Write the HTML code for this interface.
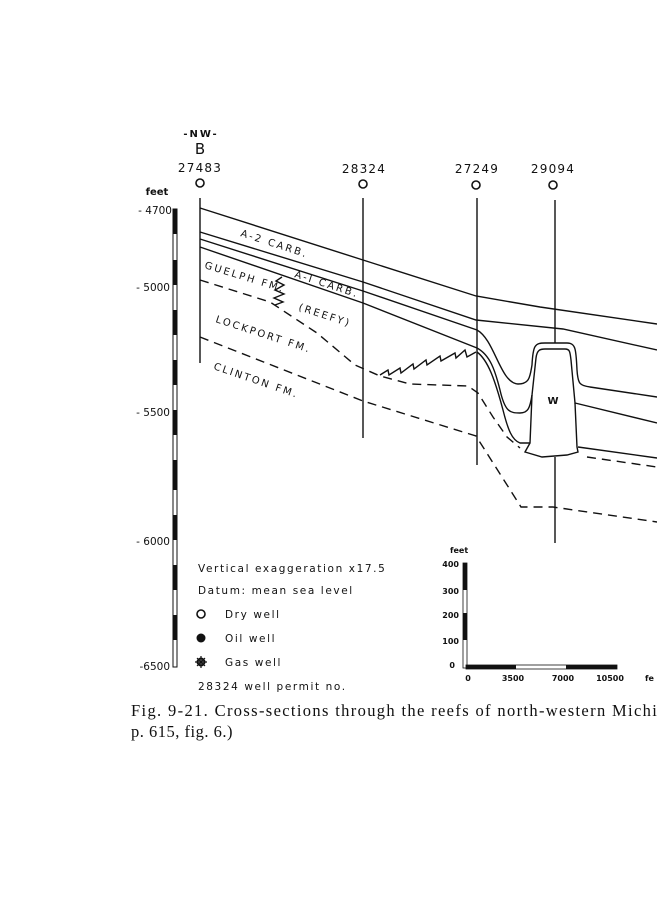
<!DOCTYPE html>
<html><head><meta charset="utf-8"><style>
html,body{margin:0;padding:0;background:#fff;}
svg{display:block;}
text{font-family:"DejaVu Sans","Liberation Sans",sans-serif;fill:#111;}
.s{fill:none;stroke:#111;stroke-width:1.4;}
.d{fill:none;stroke:#111;stroke-width:1.4;stroke-dasharray:9,6;}
.cap{font-family:"Liberation Serif",serif;font-size:16.5px;}
</style></head><body>
<svg width="657" height="900" viewBox="0 0 657 900" xmlns="http://www.w3.org/2000/svg">
<rect width="657" height="900" fill="#fff"/>
<text x="201" y="137" font-size="10" font-weight="bold" text-anchor="middle" letter-spacing="2">-NW-</text>
<text x="200" y="154" font-size="15" text-anchor="middle">B</text>
<g font-size="12" text-anchor="middle" letter-spacing="1.2">
<text x="200" y="172">27483</text><text x="364" y="173">28324</text>
<text x="477" y="173">27249</text><text x="553" y="173">29094</text>
</g>
<g fill="none" stroke="#111" stroke-width="1.6">
<circle cx="200" cy="183" r="4"/><circle cx="363" cy="184" r="4"/>
<circle cx="476" cy="185" r="4"/><circle cx="553" cy="185" r="4"/>
</g>
<text x="157" y="195" font-size="10" text-anchor="middle" font-weight="bold">feet</text>
<g font-size="10.5" text-anchor="end">
<text x="172" y="214">- 4700</text><text x="170" y="291">- 5000</text>
<text x="170" y="416">- 5500</text><text x="170" y="545">- 6000</text><text x="170" y="670">-6500</text>
</g>
<rect x="173" y="209" width="4" height="458" fill="#fff" stroke="#111" stroke-width="1"/>
<g fill="#111">
<rect x="173" y="209" width="4" height="25"/><rect x="173" y="260" width="4" height="25"/>
<rect x="173" y="310" width="4" height="25"/><rect x="173" y="360" width="4" height="25"/>
<rect x="173" y="410" width="4" height="25"/><rect x="173" y="460" width="4" height="30"/>
<rect x="173" y="515" width="4" height="25"/><rect x="173" y="565" width="4" height="25"/>
<rect x="173" y="615" width="4" height="25"/>
</g>
<g class="s" stroke-width="1.1">
<line x1="200" y1="198" x2="200" y2="363"/>
<line x1="363" y1="198" x2="363" y2="438"/>
<line x1="477" y1="198" x2="477" y2="465"/>
<line x1="555" y1="200" x2="555" y2="343"/>
<line x1="555" y1="457" x2="555" y2="543"/>
</g>
<path class="s" d="M200,208 L363,260 L476,296 L540,307 L657,324"/>
<path class="s" d="M200,232 L363,282 L476,320 L563,329 L657,350"/>
<path class="s" d="M200,239 L363,291 L477,330 C495,340 500,383 518,384 C530,384 530,376 532,365 C533,345 535,343 545,343 L567,343 C576,343 576,350 577,370 C578,385 580,385 590,387 L657,397"/>
<path class="s" d="M200,247 L363,303 L477,348 C490,355 495,370 500,390 C505,412 510,413 520,413 C528,413 530,408 532,395 L536,358 C537,350 540,349 545,349 L565,349 C570,349 570,352 571,360 L575,403 L657,423"/>
<path class="s" d="M532,395 L530,443 L525,452 L542,457 L567,455 L578,452 L577,447 L575,403"/>
<path class="s" d="M477,352 C488,360 495,380 503,410 C508,430 512,440 520,443 L530,443"/>
<path class="s" d="M578,447 L657,458"/>
<path class="d" stroke-dasharray="6,4" d="M587,457 L657,467"/>
<path class="d" d="M200,280 L270,302 L317,333 L355,365 L380,376 L410,384 L468,386 L478,393 L493,417 L507,437 L520,448"/>
<path class="d" d="M200,337 L363,401 L476,436 L521,507 L553,507 L657,522"/>
<path class="s" d="M380,375 L388,370 L389,375 L400,368 L401,373 L413,364 L414,369 L426,360 L427,365 L440,356 L441,361 L455,353 L456,358 L465,350 L467,357 L476,352"/>
<path class="s" d="M282,277 L276,281 L284,285 L275,290 L284,294 L274,298 L283,302 L275,305"/>
<g font-size="10" letter-spacing="2.2">
<text transform="translate(240,236) rotate(18)">A-2  CARB.</text>
<text transform="translate(294,277) rotate(18)">A-I  CARB.</text>
<text transform="translate(204,268) rotate(17)">GUELPH FM.</text>
<text transform="translate(298,310) rotate(18)">(REEFY)</text>
<text transform="translate(215,322) rotate(18)">LOCKPORT  FM.</text>
<text transform="translate(213,369) rotate(19)">CLINTON  FM.</text>
<text x="553" y="404" font-size="10" font-weight="bold" text-anchor="middle" letter-spacing="0">W</text>
</g>
<g font-size="10.5" letter-spacing="1.6">
<text x="198" y="572">Vertical  exaggeration  x17.5</text>
<text x="198" y="594">Datum: mean  sea  level</text>
<text x="225" y="618">Dry  well</text>
<text x="225" y="642">Oil  well</text>
<text x="225" y="666">Gas  well</text>
<text x="198" y="690">28324  well permit  no.</text>
</g>
<circle cx="201" cy="614" r="4" fill="none" stroke="#111" stroke-width="1.6"/>
<circle cx="201" cy="638" r="4.5" fill="#111"/>
<g transform="translate(201,662)"><circle r="3.5" fill="none" stroke="#111" stroke-width="2"/><path d="M0,-6V6M-6,0H6M-4,-4L4,4M-4,4L4,-4" stroke="#111" stroke-width="1.2"/></g>
<g font-size="8" font-weight="bold">
<text x="450" y="553">feet</text>
<g text-anchor="end"><text x="459" y="567">400</text><text x="459" y="594">300</text><text x="459" y="618">200</text><text x="459" y="644">100</text><text x="455" y="668">0</text></g>
<text x="468" y="681" text-anchor="middle">0</text><text x="513" y="681" text-anchor="middle">3500</text>
<text x="563" y="681" text-anchor="middle">7000</text><text x="610" y="681" text-anchor="middle">10500</text>
<text x="645" y="681">fe</text>
</g>
<rect x="463" y="563" width="4" height="105" fill="#fff" stroke="#111" stroke-width="0.8"/>
<rect x="463" y="563" width="4" height="27" fill="#111"/><rect x="463" y="613" width="4" height="27" fill="#111"/>
<rect x="466" y="665" width="151" height="4" fill="#fff" stroke="#111" stroke-width="0.8"/>
<rect x="466" y="665" width="50" height="4" fill="#111"/><rect x="566" y="665" width="51" height="4" fill="#111"/>
<text class="cap" x="131" y="716" letter-spacing="1.35">Fig. 9-21. Cross-sections through the reefs of north-western Michi</text>
<text class="cap" x="131" y="737" letter-spacing="0.5">p. 615, fig. 6.)</text>
</svg>
</body></html>
